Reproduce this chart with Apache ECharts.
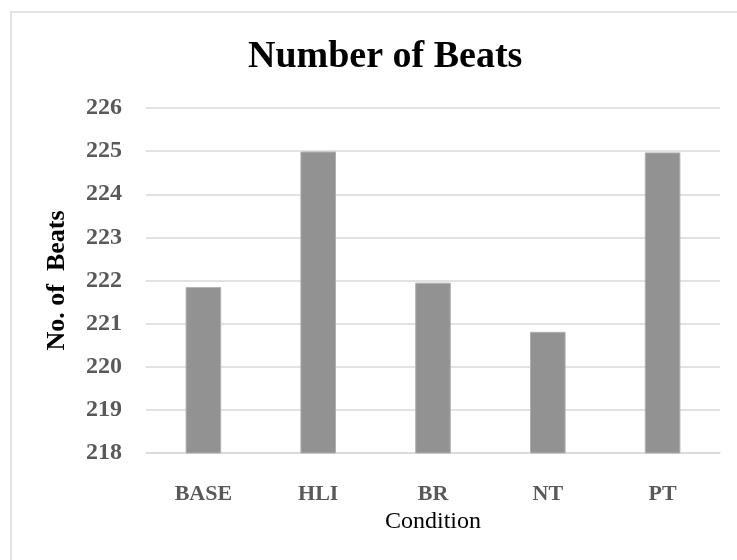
<!DOCTYPE html>
<html>
<head>
<meta charset="utf-8">
<script src="https://cdn.jsdelivr.net/npm/echarts@6/dist/echarts.min.js"></script>
<style>html,body{margin:0;padding:0;background:#fff;}#c{width:737px;height:560px;}</style>
</head>
<body>
<div id="c"></div>
<script>
var categories = ['BASE', 'HLI', 'BR', 'NT', 'PT'];
var beats = [221.85, 224.99, 221.95, 220.81, 224.97];
var yTicks = [218, 219, 220, 221, 222, 223, 224, 225, 226];

var chart = echarts.init(document.getElementById('c'), null, {renderer: 'canvas'});
var serif = '"Liberation Serif", "Times New Roman", serif';
chart.setOption({
  animation: false,
  backgroundColor: '#ffffff',
  title: {
    text: 'Number of Beats',
    left: 243,
    top: 33,
    textStyle: {fontFamily: serif, fontWeight: 'bold', fontSize: 38, color: '#000000'}
  },
  graphic: [{
    type: 'rect',
    shape: {x: 11, y: 12, width: 800, height: 700},
    style: {fill: 'none', stroke: '#d9d9d9', lineWidth: 1.5},
    silent: true
  }],
  grid: {left: 146, right: 17, top: 108, bottom: 107},
  xAxis: {
    type: 'category',
    data: categories,
    axisTick: {show: false},
    axisLine: {lineStyle: {color: '#d9d9d9', width: 1.5}},
    axisLabel: {fontFamily: serif, fontWeight: 'bold', fontSize: 22, color: '#595959', margin: 30},
    name: 'Condition',
    nameLocation: 'middle',
    nameGap: 55,
    nameTextStyle: {fontFamily: serif, fontSize: 24, color: '#000000'}
  },
  yAxis: {
    type: 'value',
    min: yTicks[0],
    max: yTicks[yTicks.length - 1],
    interval: 1,
    axisLine: {show: false},
    axisTick: {show: false},
    splitLine: {lineStyle: {color: '#d9d9d9', width: 1.5}},
    axisLabel: {fontFamily: serif, fontWeight: 'bold', fontSize: 24, color: '#595959', margin: 24},
    name: 'No. of  Beats',
    nameLocation: 'middle',
    nameGap: 76,
    nameTextStyle: {fontFamily: serif, fontWeight: 'bold', fontSize: 26, color: '#000000'}
  },
  series: [{
    type: 'bar',
    data: beats,
    barWidth: '31%',
    itemStyle: {color: '#929292', borderColor: '#b0b0b0', borderWidth: 1}
  }]
});
</script>
</body>
</html>
